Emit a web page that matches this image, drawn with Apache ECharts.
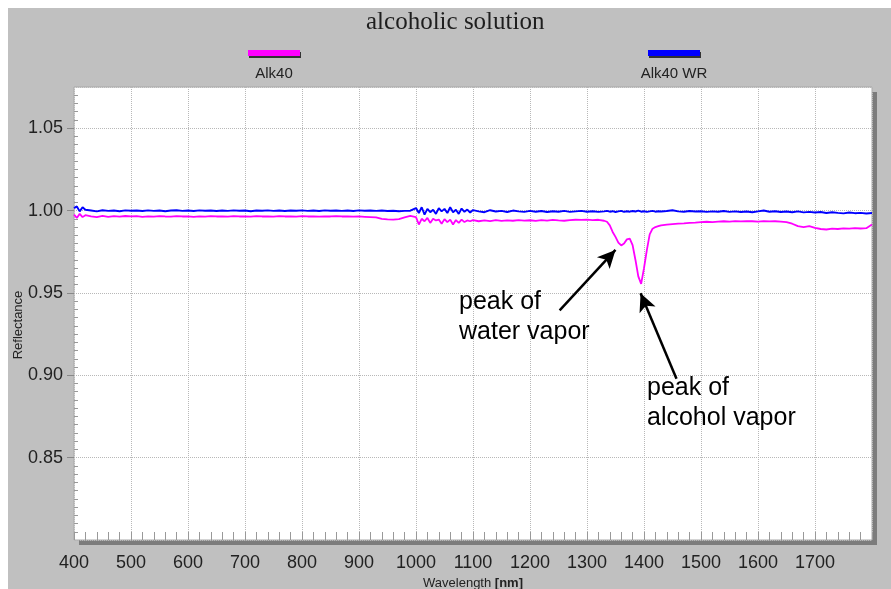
<!DOCTYPE html>
<html>
<head>
<meta charset="utf-8">
<script src="https://cdn.jsdelivr.net/npm/echarts@6/dist/echarts.min.js"></script>
<style>
html,body{margin:0;padding:0;background:#fff;}
#chart{width:891px;height:589px;}
</style>
</head>
<body>
<div id="chart"></div>
<script>
const chartTitle = 'alcoholic solution';
const seriesNames = ['Alk40', 'Alk40 WR'];

const wavelengths = [
  400,405,410,415,420,430,440,450,460,470,480,490,500,510,520,530,540,550,560,570,580,590,600,610,620,630,640,650,660,670,680,690,700,710,720,730,740,750,760,770,780,790,800,810,820,830,840,850,860,870,880,890,900,910,920,930,940,950,960,970,980,990,
  1000,1005,1010,1015,1020,1025,1030,1035,1040,1045,1050,1055,1060,1065,1070,1075,1080,1085,1090,1095,1100,
  1110,1120,1130,1140,1150,1160,1170,1180,1190,1200,1210,1220,1230,1240,1250,1260,1270,1280,1290,1300,1310,1320,1330,
  1335,1340,1345,1350,1355,1360,1365,1370,1375,1380,1385,1390,1395,1400,1405,1410,1415,1420,1425,1430,
  1440,1450,1460,1470,1480,1490,1500,1510,1520,1530,1540,1550,1560,1570,1580,1590,1600,1610,1620,1630,1640,1650,1660,1670,1680,1690,1700,1710,1720,1730,1740,1750,1760,1770,1780,1790,1800
];

const alk40 = [
  0.9975,0.9955,0.9980,0.9960,0.9972,
  0.9965,0.9960,0.9968,0.9962,0.9966,0.9963,0.9967,0.9964,0.9966,0.9962,
  0.9965,0.9963,0.9966,0.9964,0.9963,0.9966,0.9964,0.9965,0.9962,0.9965,
  0.9963,0.9966,0.9964,0.9965,0.9963,0.9966,0.9964,0.9965,0.9963,0.9966,
  0.9964,0.9965,0.9963,0.9966,0.9964,0.9965,0.9963,0.9966,0.9964,0.9965,
  0.9963,0.9965,0.9964,0.9966,0.9964,0.9965,0.9963,0.9964,0.9962,0.9960,
  0.9958,0.9950,0.9946,0.9945,0.9948,0.9958,0.9968,
  0.9960,0.9915,0.9950,0.9935,0.9955,0.9925,0.9950,0.9940,0.9945,0.9920,0.9948,0.9930,0.9945,0.9915,0.9942,0.9925,0.9945,0.9930,0.9940,0.9935,0.9942,
  0.9935,0.9940,0.9936,0.9942,0.9937,0.9940,0.9938,0.9942,0.9939,0.9941,0.9937,0.9942,0.9939,0.9943,0.9940,0.9938,0.9942,0.9944,0.9943,0.9945,0.9942,0.9944,0.9938,
  0.9932,0.9910,0.9870,0.9840,0.9805,0.9788,0.9800,0.9825,0.9830,0.9790,0.9700,0.9600,0.9555,0.9650,0.9760,0.9855,0.9890,0.9900,0.9905,0.9910,
  0.9915,0.9918,0.9920,0.9922,0.9925,0.9927,0.9930,0.9932,0.9930,0.9933,0.9935,0.9933,0.9936,0.9934,0.9936,0.9935,0.9933,0.9936,0.9934,0.9935,0.9933,0.9930,0.9920,0.9905,0.9900,0.9905,0.9895,0.9888,0.9885,0.9890,0.9888,0.9892,0.9890,0.9893,0.9891,0.9893,0.9915
];

const alk40WR = [
  1.0015,1.0025,0.9995,1.0020,1.0005,
  1.0000,0.9995,1.0002,0.9998,1.0000,0.9996,1.0001,0.9999,1.0000,0.9997,
  1.0001,0.9998,1.0000,0.9996,1.0000,1.0002,0.9998,1.0000,0.9997,1.0001,
  0.9999,1.0000,0.9997,1.0000,0.9998,1.0001,0.9999,1.0000,0.9996,1.0000,
  0.9999,1.0001,0.9998,1.0000,0.9997,1.0000,0.9999,1.0001,0.9998,1.0000,
  0.9997,1.0001,0.9999,1.0000,0.9998,1.0000,0.9997,1.0001,0.9999,1.0000,
  0.9998,1.0000,0.9997,0.9999,0.9996,0.9998,0.9999,
  1.0015,0.9985,1.0020,0.9975,1.0010,0.9990,1.0005,0.9980,1.0015,0.9995,1.0010,0.9985,1.0020,0.9990,1.0005,0.9980,1.0012,0.9992,1.0006,0.9988,1.0003,
  0.9995,0.9990,1.0002,0.9994,0.9998,0.9991,1.0000,0.9995,0.9992,0.9998,0.9993,0.9997,0.9991,0.9996,0.9993,0.9998,0.9992,0.9995,0.9998,0.9993,0.9996,0.9992,0.9995,
  0.9998,0.9993,0.9996,0.9991,0.9995,0.9998,0.9992,0.9996,0.9993,0.9997,0.9994,0.9999,0.9993,0.9996,0.9992,0.9995,0.9998,0.9993,0.9996,0.9994,
  0.9997,1.0002,0.9995,0.9993,0.9997,0.9994,0.9996,0.9992,0.9995,0.9993,0.9997,0.9992,0.9995,0.9991,0.9994,0.9990,0.9995,1.0000,0.9993,0.9996,0.9991,0.9994,0.9990,0.9995,0.9989,0.9992,0.9988,0.9991,0.9985,0.9990,0.9986,0.9983,0.9988,0.9984,0.9986,0.9982,0.9985
];

// annotation arrows in data coordinates: [tailX, tailY, headX, headY]
const waterArrow = [1252, 0.9394, 1350, 0.9761];
const alcoholArrow = [1457, 0.8979, 1394, 0.9498];

const FONT = '"Liberation Sans", Arial, sans-serif';
const chart = echarts.init(document.getElementById('chart'));

const legendCommon = {
  icon: 'rect', itemWidth: 52, itemHeight: 6, padding: 0, selectedMode: false,
  formatter: () => '',
  itemStyle: { shadowColor: '#333', shadowOffsetX: 1, shadowOffsetY: 2, shadowBlur: 0 }
};

const gridPos = { left: 74, top: 87, right: 19, bottom: 49, outerBoundsMode: 'none', containLabel: false };

chart.setOption({
  animation: false,
  backgroundColor: '#ffffff',
  title: {
    text: chartTitle, left: 366, top: 10, padding: 0,
    textStyle: { fontFamily: '"Liberation Serif", "Times New Roman", serif', fontSize: 25, fontWeight: 'normal', color: '#1e1e1e' }
  },
  legend: [
    Object.assign({ data: [seriesNames[0]], left: 248, top: 50 }, legendCommon),
    Object.assign({ data: [seriesNames[1]], left: 648, top: 50 }, legendCommon)
  ],
  graphic: [
    { type: 'rect', z: -100, silent: true, shape: { x: 8, y: 8, width: 883, height: 581 }, style: { fill: '#c0c0c0' } },
    { type: 'text', x: 274, y: 74, style: { text: seriesNames[0], font: '15px ' + FONT, fill: '#222', align: 'center', verticalAlign: 'middle' } },
    { type: 'text', x: 674, y: 74, style: { text: seriesNames[1], font: '15px ' + FONT, fill: '#222', align: 'center', verticalAlign: 'middle' } },
    { type: 'text', x: 18, y: 325, rotation: Math.PI / 2, style: { text: 'Reflectance', font: '13px ' + FONT, fill: '#222', align: 'center', verticalAlign: 'middle' } },
    { type: 'text', left: 459, top: 287, z: 100, style: { text: 'peak of\nwater vapor', font: '25px ' + FONT, lineHeight: 30, fill: '#000' } },
    { type: 'text', left: 647, top: 373, z: 100, style: { text: 'peak of\nalcohol vapor', font: '25px ' + FONT, lineHeight: 30, fill: '#000' } }
  ],
  grid: [
    Object.assign({
      show: true, backgroundColor: '#ffffff', borderWidth: 0, borderColor: 'transparent',
      shadowColor: '#7c7c7c', shadowOffsetX: 5, shadowOffsetY: 5, shadowBlur: 0
    }, gridPos),
    Object.assign({
      show: true, backgroundColor: 'transparent', borderColor: '#a8a8a8', borderWidth: 1
    }, gridPos)
  ],
  xAxis: [
    {
      type: 'value', gridIndex: 0, min: 400, max: 1800, interval: 100,
      name: 'Wavelength {b|[nm]}', nameLocation: 'middle', nameGap: 33,
      nameTextStyle: { fontFamily: FONT, fontSize: 13, color: '#222', rich: { b: { fontFamily: FONT, fontSize: 13, fontWeight: 'bold', color: '#222' } } },
      axisLine: { show: false },
      axisTick: { show: true, inside: true, length: 8, lineStyle: { color: '#999' } },
      minorTick: { show: true, splitNumber: 5, length: 8, lineStyle: { color: '#999' } },
      axisLabel: { showMaxLabel: false, margin: 14, fontFamily: FONT, fontSize: 18, color: '#222', formatter: v => String(v) },
      splitLine: { show: true, lineStyle: { type: 'dotted', color: '#b8b8b8', width: 1 } }
    },
    {
      type: 'value', gridIndex: 1, min: 400, max: 1800, interval: 100, show: false
    }
  ],
  yAxis: [
    {
      type: 'value', gridIndex: 0, min: 0.80, max: 1.075, interval: 0.05, position: 'left',
      axisLine: { show: false },
      axisTick: { show: true, length: 7, lineStyle: { color: '#888' } },
      axisLabel: { showMinLabel: false, showMaxLabel: false, margin: 11, fontFamily: FONT, fontSize: 18, color: '#222', formatter: v => v.toFixed(2) },
      splitLine: { show: true, lineStyle: { type: 'dotted', color: '#b8b8b8', width: 1 } }
    },
    {
      type: 'value', gridIndex: 1, min: 0.80, max: 1.075, interval: 0.05, position: 'left',
      axisLine: { show: false },
      axisTick: { show: false, inside: true },
      minorTick: { show: true, splitNumber: 10, length: 4, lineStyle: { color: '#999' } },
      axisLabel: { show: false },
      splitLine: { show: false }
    }
  ],
  series: [
    {
      name: seriesNames[0], type: 'line', xAxisIndex: 0, yAxisIndex: 0, showSymbol: false, symbol: 'none',
      color: '#ff00ff', lineStyle: { color: '#ff00ff', width: 1.8 },
      data: wavelengths.map((w, i) => [w, alk40[i]]),
      markLine: {
        silent: true, symbol: ['none', 'arrow'], symbolSize: [13, 18],
        label: { show: false },
        lineStyle: { color: '#000', width: 2.5, type: 'solid' },
        data: [
          [{ coord: [waterArrow[0], waterArrow[1]] }, { coord: [waterArrow[2], waterArrow[3]] }],
          [{ coord: [alcoholArrow[0], alcoholArrow[1]] }, { coord: [alcoholArrow[2], alcoholArrow[3]] }]
        ]
      }
    },
    {
      name: seriesNames[1], type: 'line', xAxisIndex: 0, yAxisIndex: 0, showSymbol: false, symbol: 'none',
      color: '#0000ff', lineStyle: { color: '#0000ff', width: 1.9 },
      data: wavelengths.map((w, i) => [w, alk40WR[i]])
    }
  ]
});
</script>
</body>
</html>
